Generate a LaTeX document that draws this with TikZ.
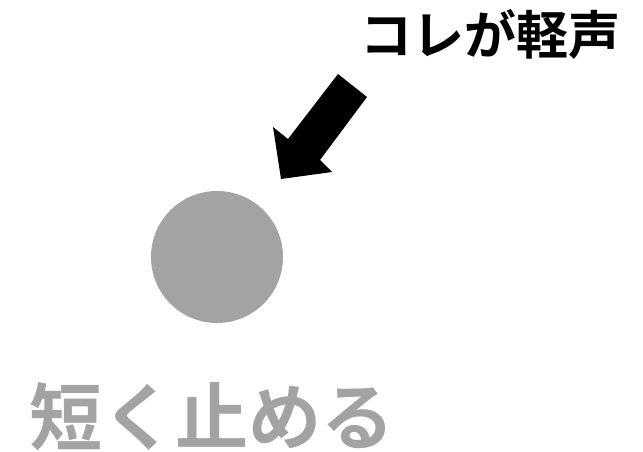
\documentclass[tikz,border=0pt]{standalone}
\usepackage{fontspec}
\newfontfamily\jpbold{Noto Sans CJK JP Bold}
\usetikzlibrary{positioning}
\usetikzlibrary{calc}
\definecolor{softgray}{HTML}{A3A3A3}
\tikzstyle{dot}=[circle,fill=softgray,draw=none,minimum size=132pt,inner sep=0pt]
\tikzstyle{callout}=[font=\jpbold\fontsize{52}{52}\selectfont,text=black,inner sep=0pt]
\tikzstyle{caption}=[font=\jpbold\fontsize{73}{73}\selectfont,text=softgray,inner sep=0pt]
\tikzstyle{pointer}=[fill=black,draw=none]

\begin{document}
\begin{tikzpicture}[x=1pt, y=-1pt]

  \useasboundingbox (0,0) rectangle (643,452);

  \node[dot] (ball) at (217, 257) {};

  \node[callout] (name) at (490, 34) {コレが軽声};
  \node[caption] (hint) at (212, 417) {短く止める};

  % big arrow towards the dot
  \fill[pointer] (338, 74) -- (367, 97) -- (320, 160) -- (332, 172)
       -- (281, 179) -- (273, 127) -- (288, 139) -- cycle;

\end{tikzpicture}
\end{document}
